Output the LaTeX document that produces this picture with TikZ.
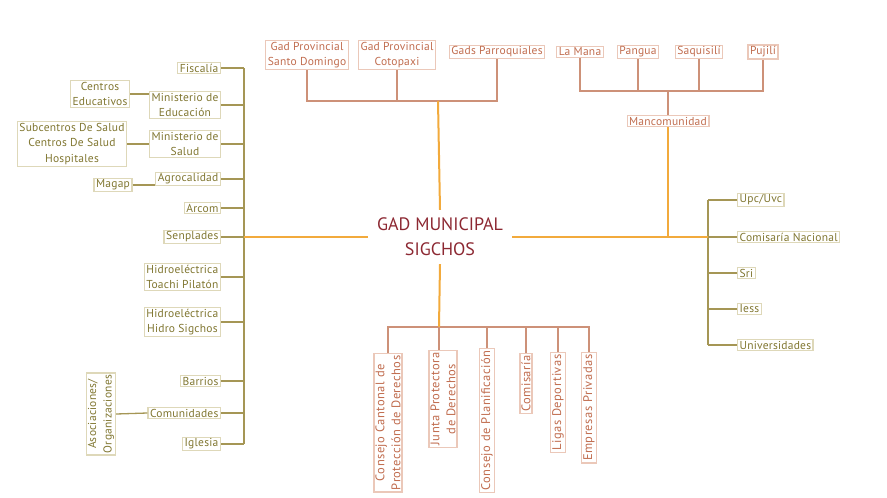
\documentclass[tikz,border=0pt]{standalone}
\usepackage{fontspec}
\setmainfont{PT Sans}[LetterSpace=2]

\definecolor{olivetext}{RGB}{128,118,48}
\definecolor{oliveline}{RGB}{165,150,85}
\definecolor{olivebox}{RGB}{222,216,185}
\definecolor{coppertext}{RGB}{192,108,78}
\definecolor{copperline}{RGB}{205,145,120}
\definecolor{copperbox}{RGB}{235,200,185}
\definecolor{mainline}{RGB}{242,170,60}
\definecolor{centertext}{RGB}{140,40,50}

\tikzset{
  box/.style={draw, line width=1.3pt, inner xsep=2pt, inner ysep=1.5pt,
    align=center, font=\fontsize{11.5}{15.5}\selectfont},
  lbox/.style={box, draw=olivebox, text=olivetext},
  tbox/.style={box, draw=copperbox, text=coppertext},
  rbox/.style={tbox, rotate=90, anchor=east,
    font=\fontsize{12.5}{16}\selectfont\addfontfeatures{LetterSpace=4}},
  lline/.style={draw=oliveline, line width=1.3pt},
  tline/.style={draw=copperline, line width=1.3pt},
  mline/.style={draw=mainline, line width=2pt}
}

\begin{document}
\begin{tikzpicture}[x=1pt,y=-1pt]
        \useasboundingbox (0,0) rectangle (887,498);

        % centro
        \node[text=centertext, font=\fontsize{18}{25}\selectfont\addfontfeatures{LetterSpace=0}, align=center,
          inner xsep=9pt, inner ysep=8pt] (gad) at (440,237) {GAD MUNICIPAL\\SIGCHOS};

        % izquierda
        \coordinate (lsp) at (244,237);
        \node[lbox, anchor=east] (fiscalia) at (221,68) {Fiscalía};
        \node[lbox, anchor=east] (mined) at (221,105) {Ministerio de\\Educación};
        \node[lbox, anchor=east] (minsalud) at (221,144) {Ministerio de\\Salud};
        \node[lbox, anchor=east] (agro) at (221,179) {Agrocalidad};
        \node[lbox, anchor=east] (arcom) at (221,208) {Arcom};
        \node[lbox, anchor=east] (senplades) at (221,237) {Senplades};
        \node[lbox, anchor=east] (toachi) at (221,277) {Hidroeléctrica\\Toachi Pilatón};
        \node[lbox, anchor=east] (hidro) at (221,322) {Hidroeléctrica\\Hidro Sigchos};
        \node[lbox, anchor=east] (barrios) at (221,381) {Barrios};
        \node[lbox, anchor=east] (comunidades) at (221,413) {Comunidades};
        \node[lbox, anchor=east] (iglesia) at (221,444) {Iglesia};

        \node[lbox] (centros) at (100,94) {Centros\\Educativos};
        \node[lbox] (subcentros) at (72,144) {Subcentros De Salud\\Centros De Salud\\Hospitales};
        \node[lbox] (magap) at (113,185) {Magap};
        \node[lbox, rotate=90] (asoc) at (101,414) {Asociaciones/\\Organizaciones};

        \draw[lline] (fiscalia.east -| lsp) -- (iglesia.east -| lsp);
        \foreach \n in {fiscalia,mined,minsalud,agro,arcom,senplades,toachi,hidro,barrios,comunidades,iglesia}
          \draw[lline] (\n.east) -- (\n.east -| lsp);
        \draw[lline] (centros.east) -- (centros.east -| mined.west);
        \draw[lline] (subcentros.east) -- (subcentros.east -| minsalud.west);
        \draw[lline] (magap.east) -- (magap.east -| agro.west);
        \draw[lline] (asoc.south) -- (comunidades.west);
        \draw[mline] (gad.west) -- (lsp);

        % arriba
        \coordinate (tbus) at (438,101);
        \node[tbox] (gpsd) at (307,55) {Gad Provincial\\Santo Domingo};
        \node[tbox] (gpc) at (397,55) {Gad Provincial\\Cotopaxi};
        \node[tbox] (gparr) at (497,52) {Gads Parroquiales};
        \draw[tline] (gpsd.south) -- (gpsd.south |- tbus) -- (gparr.south |- tbus) -- (gparr.south);
        \draw[tline] (gpc.south) -- (gpc.south |- tbus);
        \draw[mline] (tbus) -- (gad.north);

        \coordinate (mbus) at (668,91);
        \node[tbox] (lamana) at (580,52) {La Mana};
        \node[tbox] (pangua) at (638,52) {Pangua};
        \node[tbox] (saquisili) at (699,52) {Saquisilí};
        \node[tbox] (pujili) at (763,52) {Pujilí};
        \node[tbox] (manc) at (668,121) {Mancomunidad};
        \draw[tline] (lamana.south) -- (lamana.south |- mbus) -- (pujili.south |- mbus) -- (pujili.south);
        \draw[tline] (pangua.south) -- (pangua.south |- mbus);
        \draw[tline] (saquisili.south) -- (saquisili.south |- mbus);
        \draw[tline] (mbus) -- (manc.north);

        % derecha
        \coordinate (rsp) at (708,237);
        \node[lbox, anchor=west] (upc) at (737,200) {Upc/Uvc};
        \node[lbox, anchor=west] (comisarianac) at (737,237) {Comisaría Nacional};
        \node[lbox, anchor=west] (sri) at (737,273) {Sri};
        \node[lbox, anchor=west] (iess) at (737,309) {Iess};
        \node[lbox, anchor=west] (univ) at (737,345) {Universidades};
        \draw[lline] (upc.west -| rsp) -- (univ.west -| rsp);
        \foreach \n in {upc,comisarianac,sri,iess,univ}
          \draw[lline] (\n.west) -- (\n.west -| rsp);
        \draw[mline] (manc.south) -- (manc.south |- rsp);
        \draw[mline] (gad.east) -- (rsp);

        % abajo
        \coordinate (bbus) at (439,327);
        \node[rbox] (cantonal) at (388,353) {Consejo Cantonal de\\Protección de Derechos};
        \node[rbox] (junta) at (443,350) {Junta Protectora\\de Derechos};
        \node[rbox] (planif) at (487,348) {Consejo de Planificación};
        \node[rbox] (comisaria) at (526,353) {Comisaría};
        \node[rbox] (ligas) at (558,352) {Ligas Deportivas};
        \node[rbox] (empresas) at (589,352) {Empresas Privadas};
        \draw[tline] (cantonal.east) -- (cantonal.east |- bbus) -- (empresas.east |- bbus) -- (empresas.east);
        \foreach \n in {planif,comisaria,ligas}
          \draw[tline] (\n.east) -- (\n.east |- bbus);
        \draw[tline] (bbus) -- (bbus |- junta.east);
        \draw[mline] (gad.south) -- (bbus);
\end{tikzpicture}
\end{document}
